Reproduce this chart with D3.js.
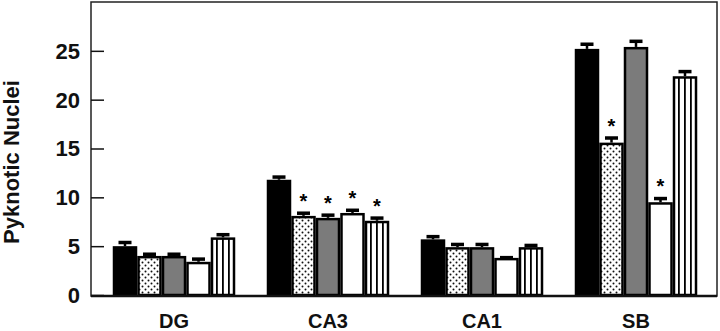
<!DOCTYPE html>
<html><head><meta charset="utf-8">
<script src="https://cdn.jsdelivr.net/npm/d3@7/dist/d3.min.js"></script>
<style>body{margin:0;background:#fff}svg{display:block}</style>
</head><body>
<svg id="c" width="720" height="331"></svg>
<script>
const regions = ["DG", "CA3", "CA1", "SB"];
const seriesNames = ["s1", "s2", "s3", "s4", "s5"];
const means = [
  [5.0, 4.0, 4.0, 3.4, 5.9],
  [11.8, 8.1, 7.9, 8.4, 7.6],
  [5.7, 4.9, 4.9, 3.8, 4.9],
  [25.2, 15.6, 25.4, 9.5, 22.4]
];
const errs = [
  [0.4, 0.2, 0.2, 0.3, 0.3],
  [0.3, 0.3, 0.3, 0.3, 0.3],
  [0.3, 0.3, 0.3, 0.05, 0.2],
  [0.5, 0.5, 0.6, 0.4, 0.5]
];
const signif = [
  [false, false, false, false, false],
  [false, true, true, true, true],
  [false, false, false, false, false],
  [false, true, false, true, false]
];
const yTicks = [0, 5, 10, 15, 20, 25];
const yTitle = "Pyknotic Nuclei";

const FONT = "Liberation Sans, Arial, Helvetica, sans-serif";
const svg = d3.select("#c");
const L = 91, R = 717, T = 2, B = 296;
const y = d3.scaleLinear().domain([0, 30]).range([295, 2]);
const x0 = d3.scalePoint().domain(regions).range([174, 636]);
const bw = 24.5;
const x1 = d3.scaleBand().domain(seriesNames).range([-bw * 2.5, bw * 2.5]);

const defs = svg.append("defs");
const dots = defs.append("pattern").attr("id", "dots").attr("patternUnits", "userSpaceOnUse")
  .attr("width", 6).attr("height", 6);
dots.append("rect").attr("width", 6).attr("height", 6).attr("fill", "#fff");
dots.append("circle").attr("cx", 1.5).attr("cy", 1.5).attr("r", 1).attr("fill", "#111");
dots.append("circle").attr("cx", 4.5).attr("cy", 4.5).attr("r", 1).attr("fill", "#111");
const stripes = defs.append("pattern").attr("id", "stripes").attr("patternUnits", "userSpaceOnUse")
  .attr("width", 6).attr("height", 10);
stripes.append("rect").attr("width", 6).attr("height", 10).attr("fill", "#fff");
stripes.append("rect").attr("x", 0).attr("width", 1.8).attr("height", 10).attr("fill", "#000");

const fills = ["#000", "url(#dots)", "#7b7b7b", "#fff", "url(#stripes)"];

// frame
svg.append("rect").attr("x", L).attr("y", T).attr("width", R - L).attr("height", B - T)
  .attr("fill", "none").attr("stroke", "#222").attr("stroke-width", 1.5);

// y axis
const yAxis = d3.axisRight(y).tickValues(yTicks).tickSize(13).tickFormat("");
const ga = svg.append("g").attr("transform", `translate(${L},0)`).call(yAxis);
ga.select(".domain").remove();
ga.selectAll(".tick line").attr("stroke", "#111").attr("stroke-width", 1.5);
svg.selectAll(".ylab").data(yTicks).enter().append("text")
  .attr("x", 80).attr("y", d => y(d)).attr("dy", "0.36em").attr("text-anchor", "end")
  .attr("font-family", FONT).attr("font-weight", "bold")
  .attr("font-size", 22).attr("fill", "#111").text(d => d);

svg.append("text").attr("transform", "translate(19,162) rotate(-90)")
  .attr("text-anchor", "middle").attr("font-family", FONT)
  .attr("font-weight", "bold").attr("font-size", 22).attr("fill", "#111").text(yTitle);

// bars
regions.forEach((r, gi) => {
  const g = svg.append("g").attr("transform", `translate(${x0(r)},0)`);
  seriesNames.forEach((s, si) => {
    const v = means[gi][si], e = errs[gi][si];
    const bx = x1(s);
    const cx = bx + bw / 2;
    g.append("line").attr("x1", cx).attr("x2", cx).attr("y1", y(v)).attr("y2", y(v + e))
      .attr("stroke", "#000").attr("stroke-width", 2.5);
    g.append("rect").attr("x", cx - 6.5).attr("width", 13).attr("y", y(v + e) - 1.5).attr("height", 3.5)
      .attr("fill", "#000");
    g.append("rect").attr("x", bx + 1.25).attr("width", bw - 2.5)
      .attr("y", y(v) + 1.25).attr("height", y(0) - y(v) - 1.25)
      .attr("fill", fills[si]).attr("stroke", "#000").attr("stroke-width", 2.5);
    if (signif[gi][si]) {
      g.append("text").attr("x", cx).attr("y", y(v + e) - 19).attr("dy", "0.7em")
        .attr("text-anchor", "middle").attr("font-family", FONT).attr("font-weight", "bold")
        .attr("font-size", 20).attr("fill", "#000").text("*");
    }
  });
});

// x axis baseline
svg.append("line").attr("x1", L).attr("x2", R).attr("y1", B).attr("y2", B)
  .attr("stroke", "#111").attr("stroke-width", 2.5);

// x labels
svg.selectAll(".xlab").data(regions).enter().append("text")
  .attr("x", d => x0(d)).attr("y", 328).attr("text-anchor", "middle")
  .attr("font-family", FONT).attr("font-weight", "bold")
  .attr("font-size", 20).attr("fill", "#111").text(d => d);
</script>
</body></html>
